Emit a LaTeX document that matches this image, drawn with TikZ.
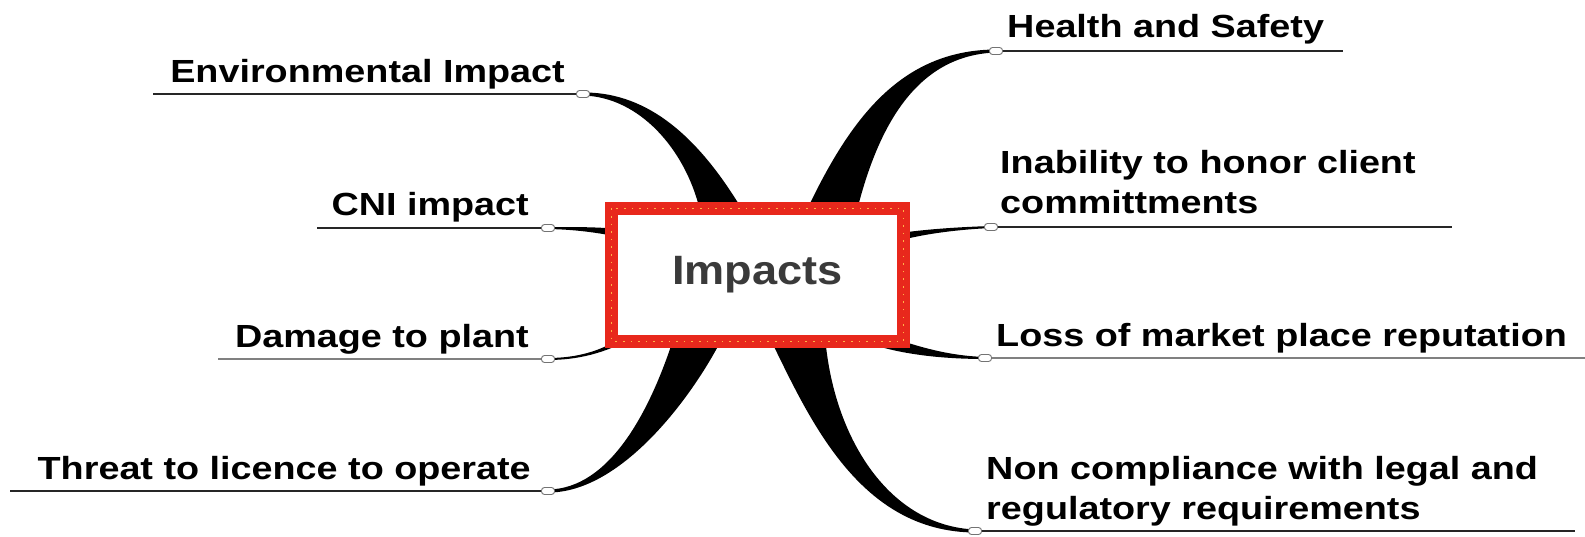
\documentclass[tikz,border=0pt]{standalone}
\usepackage{fontspec}
\setmainfont{Liberation Sans}
\usetikzlibrary{calc}
\pgfdeclarelayer{bg}
\pgfsetlayers{bg,main}
\definecolor{impred}{RGB}{232,40,28}
\definecolor{impdot}{RGB}{255,178,70}
\definecolor{impgray}{RGB}{58,58,58}
\tikzset{
  lbl/.style={inner sep=0pt, xscale=1.18, font=\fontsize{32}{40}\selectfont\bfseries, align=left},
  knob/.style={draw=black!55, fill=white, line width=0.9pt, rounded corners=3pt, minimum width=13pt, minimum height=7pt, inner sep=0pt},
  uline/.style={line width=2pt, black!85},
  gline/.style={line width=2.6pt, black!50},
  branch/.style={fill=black},
}

\begin{document}
\begin{tikzpicture}[x=1pt, y=-1pt]
		%%%%% START %%%%%
		\useasboundingbox (0,0) rectangle (1585,537);
		
		\node[draw=impred, line width=13pt, outer sep=0pt, fill=white, minimum width=292pt, minimum height=133pt, font=\fontsize{41}{50}\selectfont\bfseries, text=impgray] (imp) at (757.5,275) {\scalebox{1.1}[1]{Impacts}};
		\draw[impdot, line width=1.6pt, dash pattern=on 1.6pt off 6pt] (imp.north west) rectangle (imp.south east);
		
		% knobs
		\node[knob] (kHS) at (996,51) {};
		\node[knob] (kEnv) at (583,94) {};
		\node[knob] (kIn) at (991,227) {};
		\node[knob] (kCNI) at (548,228) {};
		\node[knob] (kDam) at (548,359) {};
		\node[knob] (kLoss) at (985,358) {};
		\node[knob] (kTL) at (548,491) {};
		\node[knob] (kNC) at (975,531) {};
		
		% labels
		\node[lbl, anchor=base west] (tHS) at (1007,38) {Health and Safety};
		\node[lbl, anchor=base east] (tEnv) at (565,83) {Environmental Impact};
		\node[lbl, anchor=base west] (tIn) at (1000,214) {Inability to honor client\\committments};
		\node[lbl, anchor=base east] (tCNI) at (529,216) {CNI impact};
		\node[lbl, anchor=base east] (tDam) at (529,347) {Damage to plant};
		\node[lbl, anchor=base west] (tLoss) at (996,346) {Loss of market place reputation};
		\node[lbl, anchor=base east] (tTL) at (531,479) {Threat to licence to operate};
		\node[lbl, anchor=base west] (tNC) at (986,519) {Non compliance with legal and\\regulatory requirements};
		
		\coordinate (eHS) at (1343,51);
		\coordinate (eEnv) at (153,94);
		\coordinate (eIn) at (1452,227);
		\coordinate (eCNI) at (317,228);
		\coordinate (eDam) at (218,359);
		\coordinate (eLoss) at (1585,358);
		\coordinate (eTL) at (10,491);
		\coordinate (eNC) at (1575,531);
		
		\begin{pgfonlayer}{bg}
		\draw[uline] (kHS.center) -- (eHS);
		\draw[uline] (kEnv.center) -- (eEnv);
		\draw[uline] (kIn.center) -- (eIn);
		\draw[uline] (kCNI.center) -- (eCNI);
		\draw[gline] (kDam.center) -- (eDam);
		\draw[gline] (kLoss.center) -- (eLoss);
		\draw[uline] (kTL.center) -- (eTL);
		\draw[uline] (kNC.center) -- (eNC);
		
		% tapered branches
		\fill[branch] ([yshift=1.5pt]kEnv.center) .. controls (650,92) and (700,140) .. ([xshift=-16pt]imp.north)
			-- ([xshift=-58pt]imp.north) .. controls (685,150) and (640,97) .. ([yshift=-1.5pt]kEnv.center) -- cycle;
		\fill[branch] ([xshift=50pt]imp.north) .. controls (850,120) and (900,50) .. ([yshift=1.5pt]kHS.center)
			-- ([yshift=-1.5pt]kHS.center) .. controls (920,55) and (880,120) .. ([xshift=100pt]imp.north) -- cycle;
		\fill[branch] ([yshift=1.5pt]kTL.center) .. controls (610,489) and (650,410) .. ([xshift=-85pt]imp.south)
			-- ([xshift=-37pt]imp.south) .. controls (690,400) and (620,493) .. ([yshift=-1.5pt]kTL.center) -- cycle;
		\fill[branch] ([xshift=14pt]imp.south) .. controls (810,420) and (860,532) .. ([yshift=-1.5pt]kNC.center)
			-- ([yshift=1.5pt]kNC.center) .. controls (890,526) and (835,440) .. ([xshift=68pt]imp.south) -- cycle;
		\fill[branch] ([yshift=1pt]kCNI.center) .. controls (575,227) and (595,227) .. ([yshift=-20pt]imp.north west)
			-- ([yshift=-27pt]imp.north west) .. controls (595,232.5) and (575,229.5) .. ([yshift=-1pt]kCNI.center) -- cycle;
		\fill[branch] ([yshift=1pt]kDam.center) .. controls (575,358) and (595,352) .. ([yshift=-2pt]imp.south west)
			-- ([xshift=14pt]imp.south west) .. controls (605,352) and (580,360) .. ([yshift=-1pt]kDam.center) -- cycle;
		\fill[branch] ([yshift=-24pt]imp.north east) .. controls (930,229) and (960,227) .. ([yshift=1pt]kIn.center)
			-- ([yshift=-1pt]kIn.center) .. controls (960,229.5) and (930,233) .. ([yshift=-31pt]imp.north east) -- cycle;
		\fill[branch] (imp.south east) .. controls (930,350) and (955,356) .. ([yshift=1pt]kLoss.center)
			-- ([yshift=-1pt]kLoss.center) .. controls (945,359) and (900,355) .. ([xshift=-40pt]imp.south east) -- cycle;
		\end{pgfonlayer}
		%%%%% END %%%%%
\end{tikzpicture}
\end{document}
